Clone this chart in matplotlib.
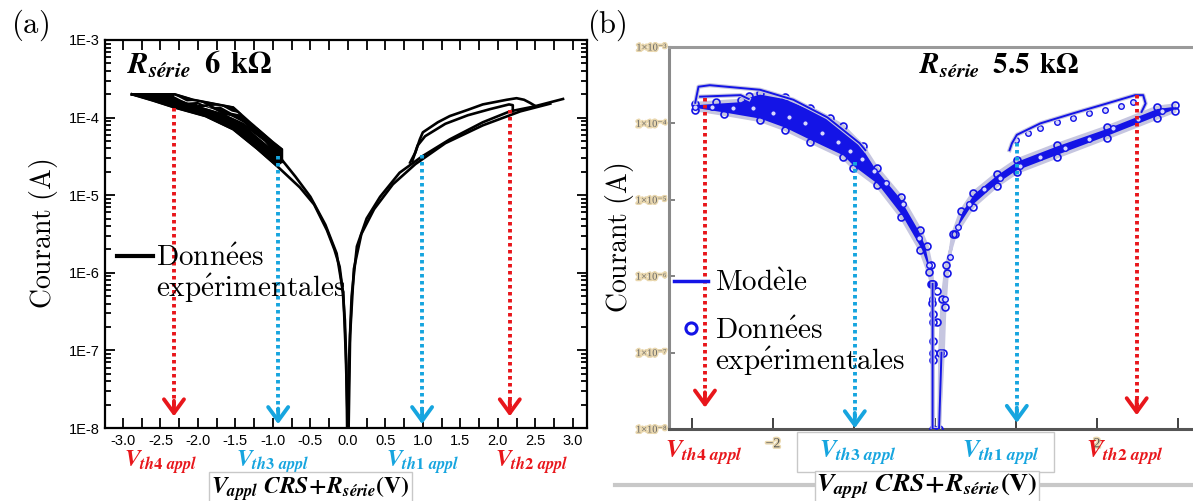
"""Two-panel I-V curves (log current) with threshold-voltage arrows."""

import matplotlib.pyplot as plt
import matplotlib.patheffects as pe
import numpy as np
from matplotlib.lines import Line2D
from matplotlib.patches import Rectangle
from matplotlib.ticker import FixedLocator, LogLocator, NullFormatter

plt.rcParams["mathtext.fontset"] = "custom"
plt.rcParams["mathtext.rm"] = "STIXGeneral:bold"
plt.rcParams["mathtext.bf"] = "STIXGeneral:bold"
plt.rcParams["mathtext.it"] = "STIXGeneral:italic:bold"

# ---- values: voltage (V) and log10 of current (A) ----
# panel (a): R_serie = 6 kOhm, experimental traces
a_left_top_v = [-2.88, -2.31, -2.07, -1.80, -1.53, -1.31, -1.01, -0.88, -0.88]
a_left_top_logi = [-3.70, -3.70, -3.77, -3.82, -3.87, -4.06, -4.31, -4.41, -4.57]
a_loop1_v = [-2.31, -2.15, -2.00, -1.85, -1.70, -1.55, -1.40, -1.25, -1.10, -0.95]
a_loop1_logi = [-3.72, -3.80, -3.79, -3.86, -3.85, -3.93, -3.96, -4.10, -4.16, -4.35]
a_loop3_v = [-2.00, -1.80, -1.60, -1.40, -1.20, -1.05]
a_loop3_logi = [-3.84, -3.90, -3.97, -4.07, -4.24, -4.36]
a_left_mid_v = [-2.88, -2.50, -2.20, -2.05, -1.85, -1.65, -1.45, -1.30, -1.10, -0.95, -0.90]
a_left_mid_logi = [-3.70, -3.76, -3.80, -3.86, -3.84, -3.95, -3.98, -4.12, -4.25, -4.42, -4.47]
a_left_in_v = [-2.88, -2.50, -2.10, -1.70, -1.40, -1.10, -0.90, -0.70, -0.50, -0.30, -0.15, -0.06, -0.03, 0.00]
a_left_in_logi = [-3.70, -3.75, -3.84, -3.95, -4.08, -4.30, -4.52, -4.76, -5.02, -5.38, -5.75, -6.28, -7.00, -8.00]
a_left_low_v = [-2.88, -2.60, -2.31, -1.90, -1.53, -1.21, -0.95, -0.64, -0.45, -0.28, -0.18,
                -0.11, -0.07, -0.04, -0.02, -0.01]
a_left_low_logi = [-3.70, -3.78, -3.87, -3.98, -4.15, -4.40, -4.62, -4.90, -5.12, -5.45, -5.70,
                   -5.92, -6.22, -6.61, -7.20, -8.00]
a_right_low_v = [0.00, 0.02, 0.05, 0.12, 0.25, 0.43, 0.69, 0.99, 1.36, 1.80, 2.16, 2.47, 2.87]
a_right_low_logi = [-8.00, -7.00, -6.30, -5.66, -5.30, -5.02, -4.71, -4.50, -4.28, -4.06, -3.92, -3.86, -3.76]
a_right_low2_v = [0.01, 0.03, 0.08, 0.18, 0.35, 0.60, 0.90, 1.30, 1.80, 2.30, 2.70]
a_right_low2_logi = [-8.00, -6.80, -5.95, -5.50, -5.18, -4.86, -4.60, -4.33, -4.10, -3.92, -3.82]
a_right_up_v = [0.83, 0.90, 0.96, 1.00, 1.20, 1.36, 1.60, 1.80, 2.12, 2.25, 2.35, 2.43, 2.50]
a_right_up_logi = [-4.58, -4.45, -4.28, -4.19, -4.06, -3.98, -3.90, -3.83, -3.77, -3.75, -3.77, -3.81, -3.85]
a_right_up2_v = [0.86, 0.93, 1.03, 1.30, 1.60, 1.90, 2.15, 2.20, 2.20]
a_right_up2_logi = [-4.56, -4.36, -4.24, -4.08, -3.97, -3.89, -3.83, -3.84, -3.92]

# panel (b): R_serie = 5.5 kOhm, band of measured points + model loops
b_left_upper_v = [-2.96, -2.70, -2.40, -2.30, -2.16, -1.85, -1.54, -1.30, -1.14, -0.89, -0.72,
                  -0.42, -0.18, -0.10, -0.05, -0.03]
b_left_upper_logi = [-3.74, -3.72, -3.70, -3.64, -3.60, -3.66, -3.80, -3.93, -4.03, -4.30, -4.58,
                     -4.96, -5.40, -5.60, -5.85, -6.10]
b_left_lower_v = [-2.96, -2.60, -2.16, -1.85, -1.54, -1.14, -1.01, -0.72, -0.42, -0.18, -0.08,
                  -0.04, -0.03, -0.03, -0.02]
b_left_lower_logi = [-3.82, -3.88, -3.96, -4.08, -4.24, -4.44, -4.58, -4.81, -5.22, -5.66, -5.95,
                     -6.10, -6.50, -7.00, -8.00]
b_left_mid_v = [-2.96, -2.75, -2.50, -2.25, -2.00, -1.80, -1.60, -1.40, -1.20, -1.05, -0.90,
                -0.75, -0.60, -0.40, -0.20, -0.08, -0.04]
b_left_mid_logi = [-3.78, -3.79, -3.80, -3.80, -3.86, -3.92, -4.00, -4.12, -4.24, -4.36, -4.46,
                   -4.62, -4.78, -5.06, -5.50, -5.85, -6.30]
b_zero_v = [-0.05, -0.04, -0.03, -0.03, -0.02, 0.02, 0.03]
b_zero_logi = [-6.10, -6.35, -6.60, -6.85, -7.10, -6.20, -6.60]
b_left_loop_v = [-2.96, -2.92, -2.78, -2.16, -1.75, -1.33, -0.93, -0.86]
b_left_loop_logi = [-3.73, -3.52, -3.50, -3.56, -3.69, -3.92, -4.26, -4.35]
b_left_loop_in_v = [-2.90, -2.40, -2.30]
b_left_loop_in_logi = [-3.65, -3.63, -3.68]
b_right_upper_v = [0.10, 0.12, 0.15, 0.22, 0.32, 0.47, 0.76, 1.01, 1.50, 2.12, 2.74, 2.96]
b_right_upper_logi = [-7.00, -6.40, -5.96, -5.45, -5.15, -4.91, -4.66, -4.48, -4.28, -4.05, -3.79, -3.76]
b_right_lower_v = [0.05, 0.06, 0.09, 0.14, 0.25, 0.47, 0.76, 1.01, 1.50, 2.12, 2.74, 2.96]
b_right_lower_logi = [-8.00, -7.00, -6.30, -5.85, -5.45, -5.09, -4.82, -4.64, -4.44, -4.19, -3.93, -3.84]
b_right_mid_v = [0.12, 0.18, 0.28, 0.42, 0.60, 0.80, 1.05, 1.30, 1.60, 1.90, 2.20, 2.50, 2.80]
b_right_mid_logi = [-6.30, -5.75, -5.35, -5.05, -4.86, -4.72, -4.56, -4.44, -4.32, -4.20, -4.06,
                    -3.94, -3.84]
b_right_loop_v = [0.92, 0.95, 1.01, 1.30, 1.70, 2.12, 2.47, 2.57, 2.60, 2.55]
b_right_loop_logi = [-4.35, -4.26, -4.15, -4.00, -3.87, -3.74, -3.63, -3.63, -3.74, -3.85]
b_right_loop_pts_v = [1.00, 1.15, 1.30, 1.50, 1.70, 1.90, 2.10, 2.30, 2.45]
b_right_loop_pts_logi = [-4.22, -4.12, -4.06, -3.98, -3.93, -3.87, -3.82, -3.77, -3.72]
b_model_zero_v = [-0.03, -0.03, 0.00, 0.05, 0.08]
b_model_zero_logi = [-6.10, -8.00, -8.00, -8.00, -7.00]

# threshold voltages: x, start of dotted line, arrow tip (log10 A)
a_vth = [-2.32, -0.93, 0.99, 2.16]
a_vth_start = [-3.87, -4.50, -4.48, -3.90]
a_vth_tip = [-7.85, -7.95, -7.95, -7.85]
b_vth = [-2.84, -0.99, 1.01, 2.49]
b_vth_start = [-3.67, -4.50, -4.26, -3.63]
b_vth_tip = [-7.72, -7.99, -7.92, -7.82]
vth_names = [r"$V_{th4\ appl}$", r"$V_{th3\ appl}$", r"$V_{th1\ appl}$", r"$V_{th2\ appl}$"]
a_vth_label_x = [-2.50, -1.00, 1.00, 2.45]
b_vth_label_x = [-2.85, -0.95, 0.82, 2.34]

a_xticks = [-3.0, -2.5, -2.0, -1.5, -1.0, -0.5, 0.0, 0.5, 1.0, 1.5, 2.0, 2.5, 3.0]
a_yticks = [1e-8, 1e-7, 1e-6, 1e-5, 1e-4, 1e-3]
a_ylabels = ["1E-8", "1E-7", "1E-6", "1E-5", "1E-4", "1E-3"]
b_ylabels = ["1×10⁻⁸", "1×10⁻⁷", "1×10⁻⁶", "1×10⁻⁵", "1×10⁻⁴", "1×10⁻³"]

RED = "#e8161b"
CYAN = "#16a5df"
BLUE = "#1414e6"
HALO = "#c6c6e0"
vth_colors = [RED, CYAN, CYAN, RED]
W, H = 1193, 501


def px_rect(x0, y0, x1, y1):
    return [x0 / W, 1 - y1 / H, (x1 - x0) / W, (y1 - y0) / H]


def draw_arrows(ax, xs, starts, tips):
    for x, s, t, c in zip(xs, starts, tips, vth_colors):
        ax.plot([x, x], [10 ** s, 10 ** (t + 0.12)], color=c, lw=2.8,
                linestyle=(0, (0.9, 0.9)), zorder=5)
        ax.annotate("", xy=(x, 10 ** t), xytext=(x, 10 ** (t + 0.2)),
                    arrowprops=dict(arrowstyle="->,head_length=0.55,head_width=0.4",
                                    color=c, lw=2.8, shrinkA=0, shrinkB=0,
                                    mutation_scale=18), zorder=6)


fig = plt.figure(figsize=(W / 100, H / 100), dpi=100)
fig.add_artist(Line2D([615 / W, 1], [1 - 485 / H] * 2, color="#c8c8c8", lw=3, zorder=-1))

# ---------------- panel (a) ----------------
ax1 = fig.add_axes(px_rect(105, 40, 587, 428))
# dense hysteresis band on the negative side (loop region only)
n_band = 7
ax1.fill(np.r_[a_left_top_v, a_left_low_v[:n_band][::-1]],
         10 ** np.r_[a_left_top_logi, a_left_low_logi[:n_band][::-1]],
         fc="black", ec="black", lw=1.5)
for v, li in [(a_loop1_v, a_loop1_logi), (a_loop3_v, a_loop3_logi)]:
    ax1.plot(v, 10 ** np.array(li), color="white", lw=0.8)
for v, li in [(a_left_top_v, a_left_top_logi), (a_left_mid_v, a_left_mid_logi),
              (a_left_in_v, a_left_in_logi), (a_left_low_v, a_left_low_logi),
              (a_right_low_v, a_right_low_logi), (a_right_low2_v, a_right_low2_logi),
              (a_right_up_v, a_right_up_logi), (a_right_up2_v, a_right_up2_logi)]:
    ax1.plot(v, 10 ** np.array(li), color="black", lw=1.9)
ax1.set_yscale("log")
ax1.set_xlim(-3.24, 3.19)
ax1.set_ylim(1e-8, 1e-3)
ax1.set_xticks(a_xticks)
ax1.set_xticklabels([f"{t:.1f}" for t in a_xticks])
ax1.xaxis.set_minor_locator(FixedLocator(np.arange(-3.25, 3.3, 0.25)))
ax1.set_yticks(a_yticks)
ax1.set_yticklabels(a_ylabels)
ax1.yaxis.set_minor_locator(LogLocator(base=10, subs=np.arange(2, 10)))
ax1.yaxis.set_minor_formatter(NullFormatter())
ax1.tick_params(which="both", direction="in", top=True, right=True, width=1.3,
                labelsize=10.5, pad=4)
ax1.tick_params(which="major", length=7)
ax1.tick_params(axis="x", which="minor", length=7)
ax1.tick_params(axis="y", which="minor", length=4)
for lbl in ax1.get_xticklabels() + ax1.get_yticklabels():
    lbl.set_fontfamily("Liberation Sans")
for s in ax1.spines.values():
    s.set_linewidth(1.6)
draw_arrows(ax1, a_vth, a_vth_start, a_vth_tip)

ax1.set_ylabel(r"$\mathrm{Courant\ (A)}$", fontsize=20, labelpad=6, math_fontfamily="cm")
ax1.text(-2.95, 10 ** -3.32, r"$R_{série}\;\;\mathrm{6\;\,k}\Omega$", fontsize=22,
         va="center", ha="left")
tr1 = ax1.get_xaxis_transform()
for x, name, c in zip(a_vth_label_x, vth_names, vth_colors):
    ax1.text(x, -0.088, name, transform=tr1, color=c, fontsize=17, ha="center", va="center")
ax1.text(-0.5, -0.155, r"$V_{appl}\ CRS\!+\!R_{série}\mathrm{(V)}$", transform=tr1,
         fontsize=17, ha="center", va="center",
         bbox=dict(boxstyle="square,pad=0.08", fc="white", ec="#c8c8c8", lw=1))
leg1 = ax1.legend([Line2D([], [], color="black", lw=3), Line2D([], [], lw=0)],
                  [r"$\mathrm{Donn\acute{e}es}$", r"$\mathrm{exp\acute{e}rimentales}$"],
                  loc="center left", bbox_to_anchor=(0.0, 0.395), frameon=False,
                  fontsize=21, handlelength=1.25, handletextpad=0.1, labelspacing=0.0,
                  borderaxespad=0)
for t in leg1.get_texts():
    t.set_math_fontfamily("cm")
fig.text(30 / W, 1 - 25 / H, r"$\mathrm{(a)}$", fontsize=22, ha="center", va="center",
         math_fontfamily="cm")

# ---------------- panel (b) ----------------
ax2 = fig.add_axes(px_rect(669, 47, 1193, 429))
halo = [pe.withStroke(linewidth=3.0, foreground=HALO)]
ax2.fill(np.r_[b_left_upper_v, b_left_lower_v[::-1]],
         10 ** np.r_[b_left_upper_logi, b_left_lower_logi[::-1]],
         fc=BLUE, lw=2.5, ec=HALO, zorder=2)
ax2.fill(np.r_[b_right_upper_v, b_right_lower_v[::-1]],
         10 ** np.r_[b_right_upper_logi, b_right_lower_logi[::-1]],
         fc=BLUE, lw=2.5, ec=HALO, zorder=2)
for v, li in [(b_left_upper_v, b_left_upper_logi), (b_left_lower_v, b_left_lower_logi),
              (b_zero_v, b_zero_logi), (b_right_upper_v, b_right_upper_logi),
              (b_right_lower_v, b_right_lower_logi)]:
    ax2.plot(v, 10 ** np.array(li), "o", ms=5, mfc="none", mec=BLUE, mew=1.2, zorder=3)
for v, li in [(b_left_mid_v, b_left_mid_logi), (b_right_mid_v, b_right_mid_logi),
              (b_right_loop_pts_v, b_right_loop_pts_logi)]:
    ax2.plot(v, 10 ** np.array(li), "o", ms=4, mfc="#d8d8ff", mec=BLUE, mew=1.0, zorder=3)
for v, li in [(b_left_loop_v, b_left_loop_logi), (b_left_loop_in_v, b_left_loop_in_logi),
              (b_right_loop_v, b_right_loop_logi), (b_model_zero_v, b_model_zero_logi)]:
    ax2.plot(v, 10 ** np.array(li), color=BLUE, lw=1.4, path_effects=halo, zorder=4)
ax2.set_yscale("log")
ax2.set_xlim(-3.284, 3.185)
ax2.set_ylim(1e-8, 1e-3)
ax2.set_xticks([-3, -2, -1, 0, 1, 2, 3])
ax2.set_xticklabels(["", "−2", "", "0", "", "2", ""])
ax2.set_yticks(a_yticks)
ax2.set_yticklabels(b_ylabels)
ax2.yaxis.set_minor_locator(FixedLocator([]))
ax2.tick_params(axis="x", direction="in", length=8, width=1.3, color="#333333",
                labelsize=10, pad=6, labelcolor="#555555")
ax2.tick_params(axis="y", direction="in", length=4, width=1.3, color="#777777",
                labelsize=7.5, pad=2, labelcolor="#666666")
for lbl in ax2.get_xticklabels() + ax2.get_yticklabels():
    lbl.set_fontfamily(["Liberation Serif", "DejaVu Serif"])
    lbl.set_path_effects([pe.withStroke(linewidth=2.2, foreground="#e9d7ae")])
ax2.spines["right"].set_visible(False)
for side in ["left", "top", "bottom"]:
    ax2.spines[side].set_linewidth(2.2)
ax2.spines["left"].set_color("#8a8a8a")
ax2.spines["top"].set_color("#9a9a9a")
ax2.spines["bottom"].set_color("#555555")
ax2.set_ylabel(r"$\mathrm{Courant\ (A)}$", fontsize=20, labelpad=0, math_fontfamily="cm")
ax2.text(-0.2, 10 ** -3.25, r"$R_{série}\;\;\mathrm{5.5\;\,k}\Omega$", fontsize=21,
         va="center", ha="left")
draw_arrows(ax2, b_vth, b_vth_start, b_vth_tip)

tr2 = ax2.get_xaxis_transform()
ax2.add_patch(Rectangle((-1.70, -0.113), 3.17, 0.105, transform=tr2, fc="white",
                        ec="#c8c8c8", lw=1, clip_on=False, zorder=7))
for x, name, c in zip(b_vth_label_x, vth_names, vth_colors):
    ax2.text(x, -0.064, name, transform=tr2, color=c, fontsize=18, ha="center",
             va="center", zorder=8)
ax2.text(-0.1, -0.153, r"$V_{appl}\ CRS\!+\!R_{série}\mathrm{(V)}$", transform=tr2,
         fontsize=19, ha="center", va="center", zorder=8,
         bbox=dict(boxstyle="square,pad=0.06", fc="white", ec="#c8c8c8", lw=1))
leg2a = ax2.legend([Line2D([], [], color=BLUE, lw=2.5)], [r"$\mathrm{Mod\grave{e}le}$"],
                   loc="center left", bbox_to_anchor=(-0.012, 0.382), frameon=False,
                   fontsize=21, handlelength=1.15, handletextpad=0.25, borderaxespad=0)
leg2a.get_texts()[0].set_math_fontfamily("cm")
ax2.add_artist(leg2a)
leg2b = ax2.legend([Line2D([], [], ls="none", marker="o", ms=8, mfc="none", mec=BLUE, mew=2.2),
                    Line2D([], [], lw=0)],
                   [r"$\mathrm{Donn\acute{e}es}$", r"$\mathrm{exp\acute{e}rimentales}$"],
                   loc="upper left", bbox_to_anchor=(-0.012, 0.325), frameon=False,
                   fontsize=21, handlelength=1.15, handletextpad=0.25, labelspacing=0.0,
                   borderaxespad=0)
for t in leg2b.get_texts():
    t.set_math_fontfamily("cm")
fig.text(607 / W, 1 - 25 / H, r"$\mathrm{(b)}$", fontsize=22, ha="center", va="center",
         math_fontfamily="cm")

fig.savefig("out.png", dpi=100)
